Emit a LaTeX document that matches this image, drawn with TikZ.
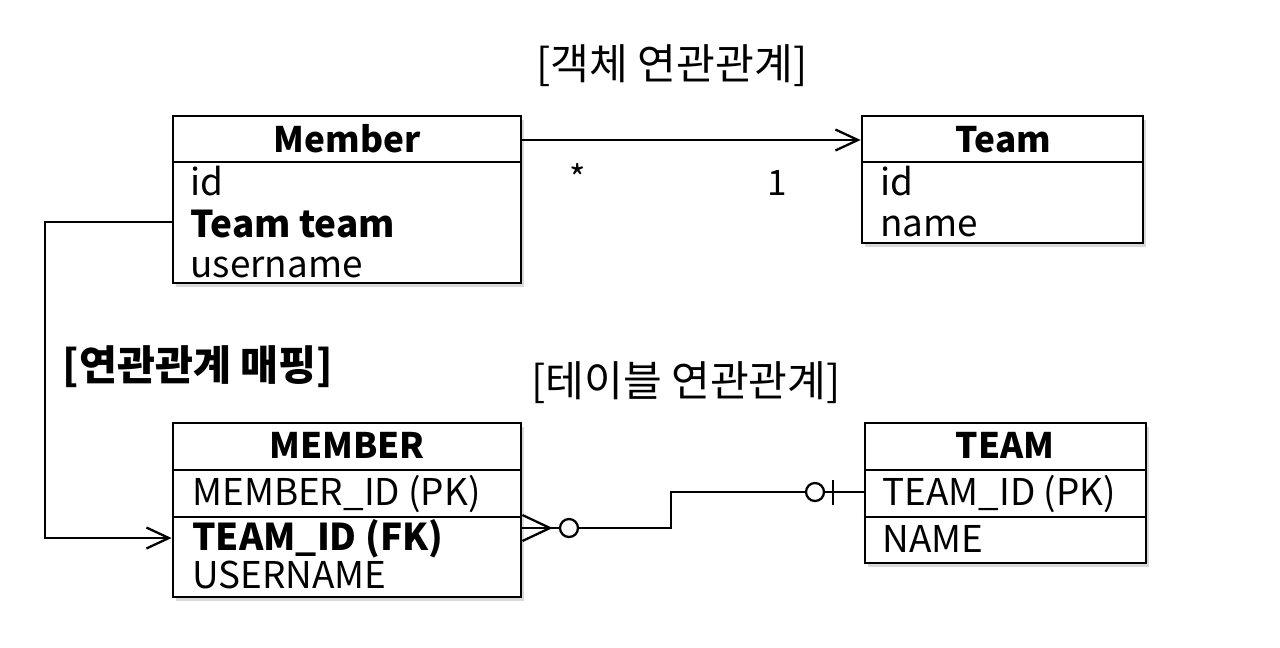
\documentclass[tikz,border=0pt]{standalone}
\usepackage{fontspec}
\setmainfont{Noto Sans CJK KR}
\usetikzlibrary{arrows.meta,fit,shadows}

\tikzset{
  entity/.style={draw, line width=1.6pt, fill=white, inner sep=0pt,
    drop shadow={shadow xshift=1.5pt, shadow yshift=-2pt, opacity=0.3}},
  rule/.style={line width=1.4pt},
  head/.style={font=\fontsize{20}{24}\selectfont\bfseries, inner sep=0pt, anchor=base},
  field/.style={font=\fontsize{21}{25}\selectfont, inner sep=0pt, anchor=base west},
  key/.style={field, font=\fontsize{21}{25}\selectfont\bfseries},
  caption/.style={font=\fontsize{24}{28}\selectfont, inner sep=0pt},
  mult/.style={font=\fontsize{20}{24}\selectfont, inner sep=0pt},
  link/.style={line width=1.3pt},
  assoc/.style={link, -{Straight Barb[length=0.45cm, width=0.42cm, line width=1.3pt]}},
  ring/.style={circle, draw, line width=1.3pt, minimum size=0.36cm, inner sep=0pt, fill=white},
}

\begin{document}
\begin{tikzpicture}[x=0.02cm, y=-0.02cm]
  \useasboundingbox (0,0) rectangle (1280,647);
  % Object model:
  \node[caption] (objTitle) at (672,66) {[객체 연관관계]};
  \node[entity, fit={(173,116) (521,283)}] (memberCls) {};
  \node[head] (memberHead) at (347,152) {Member};
  \draw[rule] (memberCls.west |- 0,162) -- (memberCls.east |- 0,162);
  \node[field] (memberId) at (190,195) {id};
  \node[key] (memberTeam) at (190,237) {Team team};
  \node[field] (memberName) at (190,277) {username};

  \node[entity, fit={(862,116) (1143,243)}] (teamCls) {};
  \node[head] (teamHead) at (1003,152) {Team};
  \draw[rule] (teamCls.west |- 0,162) -- (teamCls.east |- 0,162);
  \node[field] (teamId) at (880,195) {id};
  \node[field] (teamName) at (880,236) {name};

  \draw[assoc] (memberCls.east |- 0,140) -- (teamCls.west |- 0,140);
  \node[mult] (manyMult) at (578,178) {*};
  \node[mult] (oneMult) at (777,183) {1};

  % Mapping:
  \node[caption, font=\fontsize{23.5}{28}\selectfont\bfseries] (mapTitle) at (198,367) {[연관관계 매핑]};
  \node[caption] (tblTitle) at (686,383) {[테이블 연관관계]};

  % Tables:
  \node[entity, fit={(173,423) (521,597)}] (memberTbl) {};
  \node[head] (memberTblHead) at (347,458) {MEMBER};
  \draw[rule] (memberTbl.west |- 0,470) -- (memberTbl.east |- 0,470);
  \draw[rule] (memberTbl.west |- 0,517) -- (memberTbl.east |- 0,517);
  \node[field] (memberPk) at (192,505) {MEMBER\_ID (PK)};
  \node[key] (memberFk) at (192,550) {TEAM\_ID (FK)};
  \node[field] (memberUser) at (192,588) {USERNAME};

  \node[entity, fit={(865,423) (1146,563)}] (teamTbl) {};
  \node[head] (teamTblHead) at (1005,458) {TEAM};
  \draw[rule] (teamTbl.west |- 0,470) -- (teamTbl.east |- 0,470);
  \draw[rule] (teamTbl.west |- 0,517) -- (teamTbl.east |- 0,517);
  \node[field] (teamPk) at (882,505) {TEAM\_ID (PK)};
  \node[field] (teamNameCol) at (882,552) {NAME};

  % Reference and foreign key:
  \coordinate (bendTop) at (45,222);
  \draw[assoc] (memberCls.west |- bendTop) -- (bendTop) |- (memberTbl.west |- 0,538);

  \coordinate (fkEnd) at (521,528);
  \node[ring] (ringMany) at (569,528) {};
  \draw[link] (fkEnd) -- (ringMany);
  \draw[link] (memberTbl.east |- 0,515) -- (550,528) -- (memberTbl.east |- 0,541);
  \coordinate (jog) at (671,492);
  \node[ring] (ringOne) at (815,492) {};
  \draw[link] (ringMany) -| (jog) -- (ringOne);
  \draw[link] (ringOne) -- (teamTbl.west |- ringOne);
  \draw[link] (ringOne) ++(18,-12) -- ++(0,25);
\end{tikzpicture}
\end{document}
